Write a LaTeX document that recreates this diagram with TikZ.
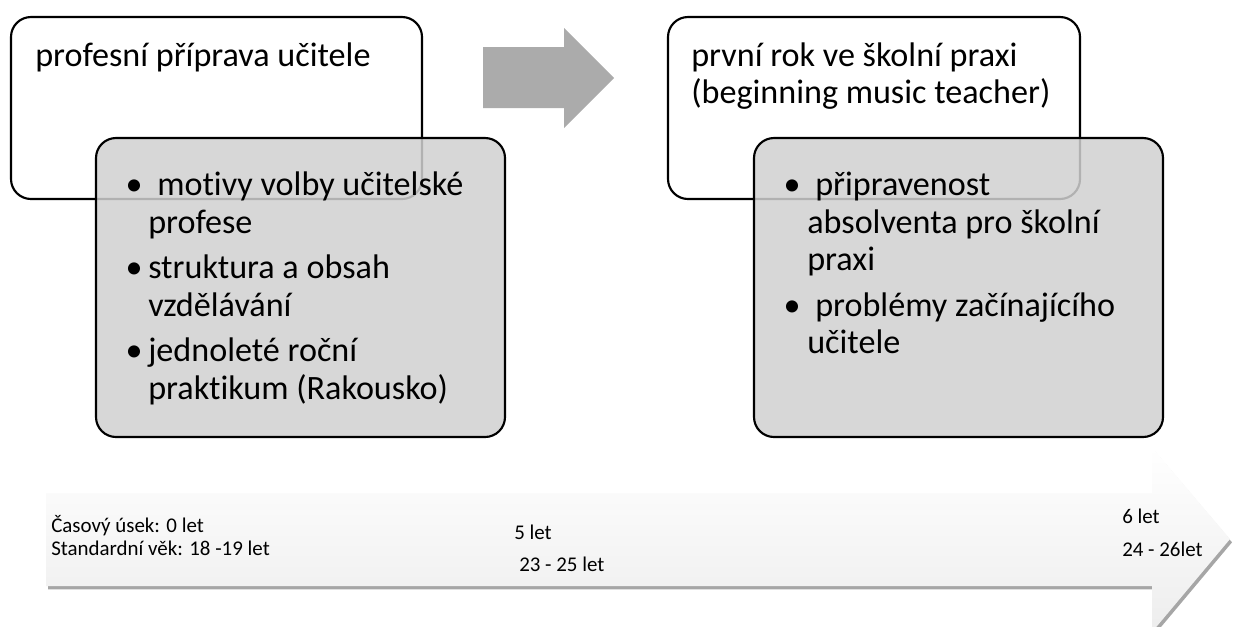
\documentclass[tikz,border=0pt]{standalone}
\usepackage{fontspec}
\setmainfont{Carlito}[Ligatures=NoCommon]
\usetikzlibrary{shadows}
\definecolor{boxgray}{RGB}{208,208,208}
\definecolor{arrowgray}{RGB}{171,171,171}
\tikzset{
    whitebox/.style={draw, line width=1.6pt, rounded corners=15pt, fill=white},
    greybox/.style={draw, line width=1.6pt, rounded corners=15pt, fill=boxgray, fill opacity=.85},
    titletext/.style={anchor=base west, inner sep=0pt, font=\fontsize{25.6}{30}\selectfont},
    bulletdot/.style={anchor=base, inner sep=0pt, font=\fontsize{25.6}{30}\selectfont},
    timetext/.style={anchor=base west, inner sep=0pt, font=\fontsize{15.7}{19}\selectfont},
    timeline/.style={top color=white, bottom color=gray!14,
        drop shadow={shadow xshift=1.5pt, shadow yshift=-2.5pt, opacity=.35, fill=black}},
}
\begin{document}
\begin{tikzpicture}[x=0.75pt,y=-0.75pt]
    \useasboundingbox (0,0) rectangle (1234,626);
    \clip (0,0) rectangle (1234,626);
    \draw[whitebox] (11,17) rectangle (422,199);
    \draw[greybox] (96,138) rectangle (505,437);
    \draw[whitebox] (668,17) rectangle (1080,199);
    \draw[greybox] (754,138) rectangle (1163,437);
    \fill[arrowgray] (483,47)--(564,47)--(564,28)--(614,78)--(564,128)--(564,108)--(483,108)--cycle;
    \path[timeline] (46,493)--(1152,493)--(1152,447)--(1230,539)--(1152,632)--(1152,586)--(46,586)--cycle;
    \node[titletext] (prep) at (35,66) {profesní příprava učitele};
    \node[bulletdot] (b1) at (134,195) {\textbullet};
    \node[titletext] (motiv) at (157,195) {motivy volby učitelské};
    \node[titletext] (motiv2) at (148,233) {profese};
    \node[bulletdot] (b2) at (134,278) {\textbullet};
    \node[titletext] (strukt) at (148,278) {struktura a obsah};
    \node[titletext] (strukt2) at (148,316) {vzdělávání};
    \node[bulletdot] (b3) at (134,361) {\textbullet};
    \node[titletext] (prakt) at (148,361) {jednoleté roční};
    \node[titletext] (prakt2) at (148,399) {praktikum (Rakousko)};
    \node[titletext] (rok) at (691,66) {první rok ve školní praxi};
    \node[titletext] (rok2) at (691,103) {(beginning music teacher)};
    \node[bulletdot] (b4) at (792,195) {\textbullet};
    \node[titletext] (absol) at (815,195) {připravenost};
    \node[titletext] (absol2) at (807,233) {absolventa pro školní};
    \node[titletext] (absol3) at (807,270) {praxi};
    \node[bulletdot] (b5) at (792,316) {\textbullet};
    \node[titletext] (probl) at (815,316) {problémy začínajícího};
    \node[titletext] (probl2) at (807,353) {učitele};
    \node[timetext] (usek0) at (51,532) {Časový úsek: 0 let};
    \node[timetext] (vek0) at (51,555) {Standardní věk: 18 -19 let};
    \node[timetext] (usek5) at (514,539) {5 let};
    \node[timetext] (vek5) at (519,571) {23 - 25 let};
    \node[timetext] (usek6) at (1122,523) {6 let};
    \node[timetext] (vek6) at (1122,556) {24 - 26let};
\end{tikzpicture}
\end{document}
